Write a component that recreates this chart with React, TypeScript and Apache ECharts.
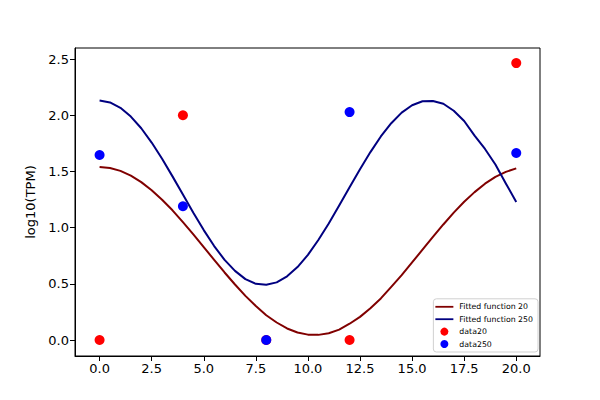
import { useEffect, useRef } from 'react';
import * as echarts from 'echarts';

// sample points of the fitted curves
const fitX = [
  0, 0.5, 1, 1.5, 2, 2.5, 3, 3.5, 4, 4.5, 5, 5.5, 6, 6.5, 7, 7.5, 8, 8.5, 9, 9.5, 10,
  10.5, 11, 11.5, 12, 12.5, 13, 13.5, 14, 14.5, 15, 15.5, 16, 16.5, 17, 17.5, 18, 18.5, 19, 19.5, 20,
];
const fit20 = [
  1.54, 1.531, 1.505, 1.463, 1.405, 1.333, 1.248, 1.154, 1.049, 0.94, 0.827, 0.713, 0.601, 0.494,
  0.393, 0.303, 0.221, 0.156, 0.103, 0.067, 0.048, 0.046, 0.061, 0.093, 0.145, 0.206, 0.283, 0.37,
  0.473, 0.577, 0.69, 0.804, 0.917, 1.028, 1.133, 1.23, 1.316, 1.391, 1.452, 1.496, 1.527,
];
const fit250 = [
  2.13, 2.114, 2.066, 1.988, 1.884, 1.757, 1.613, 1.456, 1.294, 1.132, 0.978, 0.836, 0.713, 0.615,
  0.542, 0.5, 0.491, 0.513, 0.567, 0.649, 0.757, 0.89, 1.037, 1.196, 1.359, 1.52, 1.672, 1.811,
  1.929, 2.023, 2.089, 2.124, 2.127, 2.102, 2.04, 1.949, 1.818, 1.7, 1.562, 1.393, 1.229,
];

const dataX = [0, 4, 8, 12, 20];
const data20 = [0, 2.0, 0, 0, 2.464];
const data250 = [1.646, 1.19, 0, 2.028, 1.664];

const xTicks = [0, 2.5, 5, 7.5, 10, 12.5, 15, 17.5, 20];
const yTicks = [0, 0.5, 1, 1.5, 2, 2.5];

const font = 'DejaVu Sans';

export default function App() {
  const ref = useRef<HTMLDivElement | null>(null);

  useEffect(() => {
    if (!ref.current) return;
    const chart = echarts.init(ref.current, null, { renderer: 'svg' });

    const zip = (xs: number[], ys: number[]) => xs.map((x, i) => [x, ys[i]]);

    chart.setOption({
      animation: false,
      textStyle: { fontFamily: font },
      grid: {
        left: 75,
        right: 60,
        top: 48,
        bottom: 44,
        show: true,
        borderColor: '#000',
        borderWidth: 1,
      },
      legend: {
        orient: 'vertical',
        right: 62,
        bottom: 48,
        padding: [4, 5, 4, 2],
        itemWidth: 18,
        itemHeight: 8,
        itemGap: 4.4,
        backgroundColor: 'rgba(255,255,255,0.8)',
        borderColor: '#d0d0d0',
        borderWidth: 1,
        borderRadius: 3,
        textStyle: { fontFamily: font, fontSize: 7.8, color: '#000', padding: [0, 0, 0, 1] },
        data: [
          { name: 'Fitted function 20', icon: 'path://M0,0H20V2H0Z' },
          { name: 'Fitted function 250', icon: 'path://M0,0H20V2H0Z' },
          { name: 'data20', icon: 'circle' },
          { name: 'data250', icon: 'circle' },
        ],
      },
      xAxis: {
        type: 'value',
        min: -1.18,
        max: 21.14,
        splitLine: { show: false },
        axisLine: { onZero: false, lineStyle: { color: '#000', width: 1 } },
        axisTick: { length: 5, lineStyle: { color: '#000' }, customValues: xTicks },
        axisLabel: {
          color: '#000',
          fontSize: 13,
          margin: 6,
          customValues: xTicks,
          formatter: (v: number) => v.toFixed(1),
        },
      },
      yAxis: {
        type: 'value',
        min: -0.142,
        max: 2.598,
        name: 'log10(TPM)',
        nameLocation: 'middle',
        nameGap: 38,
        nameTextStyle: { color: '#000', fontSize: 13, fontFamily: font },
        splitLine: { show: false },
        axisLine: { onZero: false, lineStyle: { color: '#000', width: 1 } },
        axisTick: { length: 5, lineStyle: { color: '#000' }, customValues: yTicks },
        axisLabel: {
          color: '#000',
          fontSize: 13,
          margin: 6,
          customValues: yTicks,
          formatter: (v: number) => v.toFixed(1),
        },
      },
      series: [
        {
          name: 'Fitted function 20',
          type: 'line',
          data: zip(fitX, fit20),
          symbol: 'none',
          color: '#800000',
          lineStyle: { color: '#800000', width: 2, join: 'round' },
          z: 2,
        },
        {
          name: 'Fitted function 250',
          type: 'line',
          data: zip(fitX, fit250),
          symbol: 'none',
          color: '#000080',
          lineStyle: { color: '#000080', width: 2, join: 'round' },
          z: 2,
        },
        {
          name: 'data20',
          type: 'scatter',
          data: zip(dataX, data20),
          symbolSize: 10,
          itemStyle: { color: '#ff0000', opacity: 1 },
          z: 3,
        },
        {
          name: 'data250',
          type: 'scatter',
          data: zip(dataX, data250),
          symbolSize: 10,
          itemStyle: { color: '#0000ff', opacity: 1 },
          z: 4,
        },
      ],
    });

    return () => chart.dispose();
  }, []);

  return (
    <div
      ref={ref}
      style={{ position: 'fixed', left: 0, top: 0, width: 600, height: 400, background: '#fff' }}
    />
  );
}
